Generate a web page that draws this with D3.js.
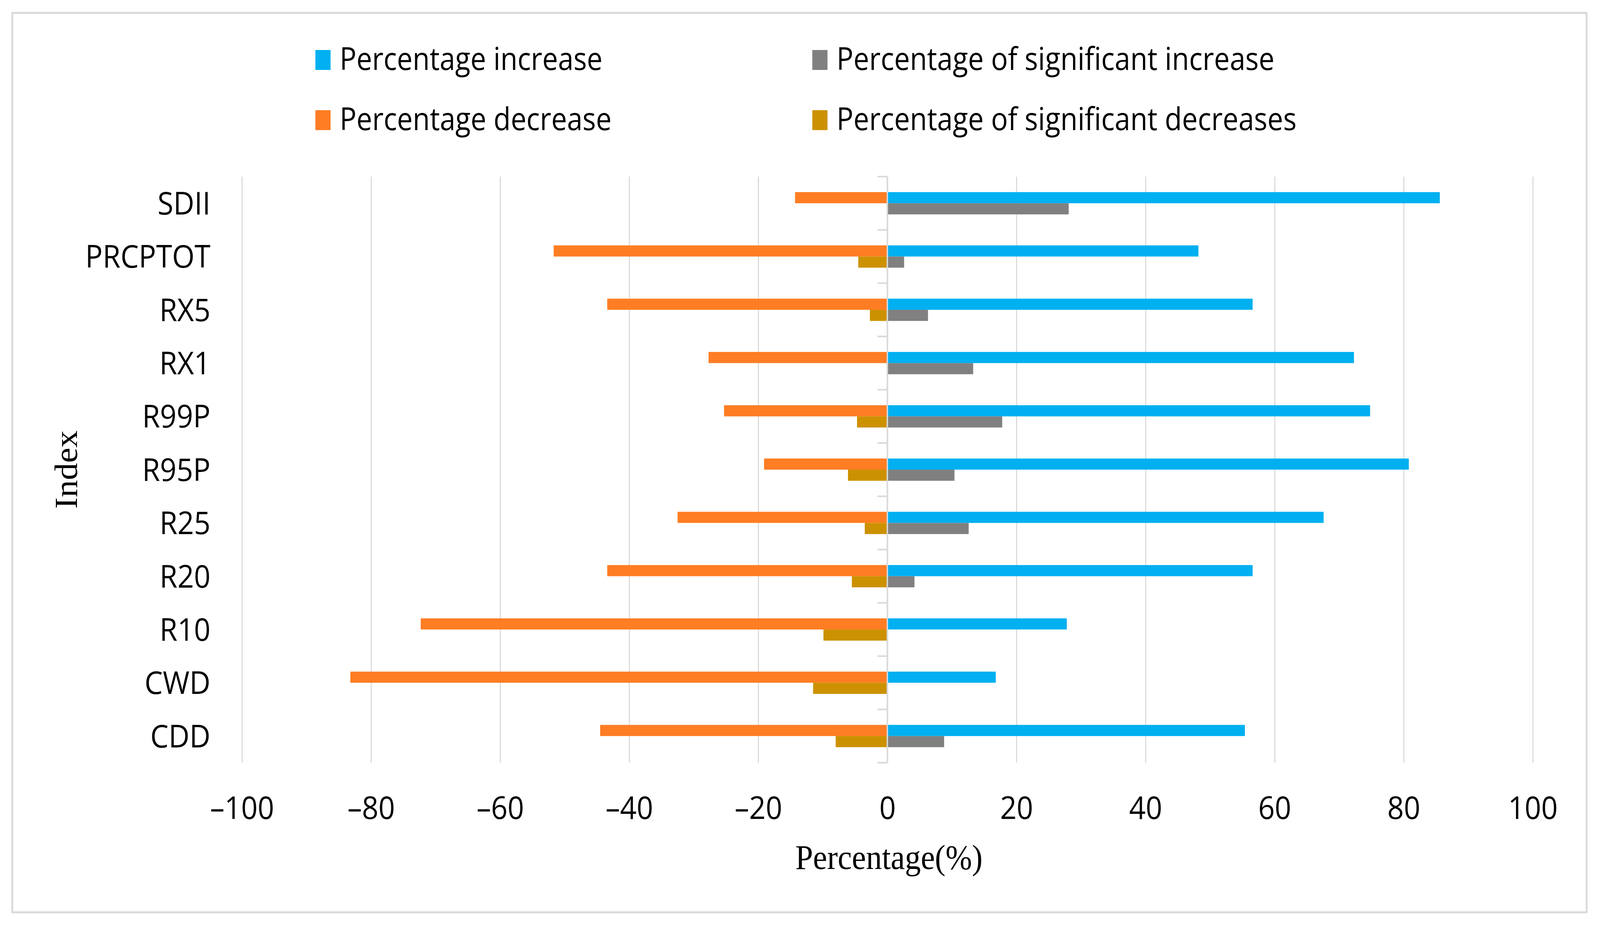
<!DOCTYPE html>
<html>
<head>
<meta charset="utf-8">
<script src="https://cdn.jsdelivr.net/npm/d3@7"></script>
<style>
  html, body { margin: 0; padding: 0; overflow: hidden; background: #fff; }
  svg { display: block; width: 100vw; height: 100vh; }
</style>
</head>
<body>
<div id="chart"></div>
<script>
// values (percent of stations)
const categories = ["SDII", "PRCPTOT", "RX5", "RX1", "R99P", "R95P", "R25", "R20", "R10", "CWD", "CDD"];
const increase    = [85.6, 48.2, 56.6, 72.3, 74.8, 80.8, 67.6, 56.6, 27.8, 16.8, 55.4];
const sigIncrease = [28.1, 2.6, 6.3, 13.3, 17.8, 10.4, 12.6, 4.2, 0, 0, 8.8];
const decrease    = [-14.3, -51.7, -43.4, -27.7, -25.3, -19.1, -32.5, -43.4, -72.3, -83.2, -44.5];
const sigDecrease = [0, -4.5, -2.7, 0, -4.7, -6.1, -3.5, -5.5, -9.9, -11.5, -8.0];
const xTicks = [-100, -80, -60, -40, -20, 0, 20, 40, 60, 80, 100];
const seriesNames = ["Percentage increase", "Percentage of significant increase",
                     "Percentage decrease", "Percentage of significant decreases"];

const W = 4424, H = 2370;
const colors = {
  inc: "#00B0F0",
  sigInc: "#808080",
  dec: "#FF7D23",
  sigDec: "#CC9100"
};
const sans = "'Open Sans', 'Noto Sans', sans-serif";
const serif = "'Liberation Serif', 'Times New Roman', serif";
const grid = "#d9d9d9";

// drawn in a fixed 4424x2370 space, stretched to whatever the viewport is
const svg = d3.select("#chart").append("svg")
    .attr("viewBox", [0, 0, W, H])
    .attr("preserveAspectRatio", "none");

svg.append("rect")
    .attr("width", W).attr("height", H)
    .attr("fill", "#fff");

// outer chart frame
svg.append("rect")
    .attr("x", 34).attr("y", 33)
    .attr("width", 4353).attr("height", 2302)
    .attr("fill", "none")
    .attr("stroke", grid)
    .attr("stroke-width", 5);

const plot = {left: 669, right: 4238, top: 452, bottom: 1952};

const x = d3.scaleLinear()
    .domain([-100, 100])
    .range([plot.left, plot.right]);

const y = d3.scaleBand()
    .domain(categories)
    .range([plot.top, plot.bottom])
    .padding(0);

const barH = y.bandwidth() * 0.209;

// gridlines + tick labels
const fmt = d => d < 0 ? "\u2013" + Math.abs(d) : String(d);
const xAxis = svg.append("g")
    .attr("transform", `translate(0,${plot.bottom})`)
    .call(d3.axisBottom(x)
        .tickValues(xTicks)
        .tickSize(-(plot.bottom - plot.top))
        .tickPadding(87)
        .tickFormat(fmt));
xAxis.select(".domain").remove();
xAxis.selectAll(".tick line")
    .attr("stroke", grid)
    .attr("stroke-width", 3);
xAxis.selectAll(".tick text")
    .attr("fill", "#000")
    .style("font-family", sans)
    .style("font-size", "80px");

// bars
const rows = categories.map((c, i) => ({
  cat: c, inc: increase[i], sigInc: sigIncrease[i], dec: decrease[i], sigDec: sigDecrease[i]
}));

function drawBars(key, slot) {
  svg.append("g")
    .selectAll("rect")
    .data(rows)
    .join("rect")
      .attr("x", d => Math.min(x(0), x(d[key])))
      .attr("width", d => Math.abs(x(d[key]) - x(0)))
      .attr("y", d => y(d.cat) + y.bandwidth() / 2 - (slot === 0 ? barH : 0))
      .attr("height", barH)
      .attr("fill", colors[key]);
}
drawBars("dec", 0);
drawBars("inc", 0);
drawBars("sigDec", 1);
drawBars("sigInc", 1);

// vertical axis at zero with category boundary ticks
const yAxis = svg.append("g")
    .attr("transform", `translate(${x(0)},0)`);
yAxis.append("line")
    .attr("y1", plot.top).attr("y2", plot.bottom)
    .attr("stroke", grid)
    .attr("stroke-width", 4);
yAxis.selectAll(".btick")
    .data(d3.range(categories.length + 1).map(i => plot.top + i * y.step()))
    .join("line")
      .attr("class", "btick")
      .attr("x1", -27).attr("x2", 0)
      .attr("y1", d => d).attr("y2", d => d)
      .attr("stroke", grid)
      .attr("stroke-width", 4);

// category labels at the left
const catAxis = svg.append("g")
    .attr("transform", "translate(582,0)")
    .call(d3.axisLeft(y).tickSize(0).tickPadding(0));
catAxis.select(".domain").remove();
catAxis.selectAll(".tick text")
    .attr("fill", "#000")
    .attr("dy", "0.36em")
    .style("font-family", sans)
    .style("font-size", "80px");

// axis titles
svg.append("text")
    .attr("x", 2458)
    .attr("y", 2224)
    .attr("text-anchor", "middle")
    .style("font-family", serif)
    .style("font-size", "88px")
    .text("Percentage(%)");

svg.append("text")
    .attr("transform", "translate(213,1202) rotate(-90)")
    .attr("text-anchor", "middle")
    .style("font-family", serif)
    .style("font-size", "88px")
    .text("Index");

// legend
const legendItems = [
  {name: seriesNames[0], color: colors.inc,    x: 872,  y: 128, w: 727},
  {name: seriesNames[1], color: colors.sigInc, x: 2246, y: 128, w: 1211},
  {name: seriesNames[2], color: colors.dec,    x: 872,  y: 282, w: 752},
  {name: seriesNames[3], color: colors.sigDec, x: 2246, y: 282, w: 1272}
];
const lg = svg.append("g").selectAll("g")
    .data(legendItems)
    .join("g")
      .attr("transform", d => `translate(${d.x},${d.y})`);
lg.append("rect")
    .attr("width", 42)
    .attr("height", 51)
    .attr("fill", d => d.color);
lg.append("text")
    .attr("x", 67)
    .attr("y", 51)
    .attr("textLength", d => d.w)
    .attr("lengthAdjust", "spacingAndGlyphs")
    .style("font-family", sans)
    .style("font-size", "80px")
    .text(d => d.name);
</script>
</body>
</html>
